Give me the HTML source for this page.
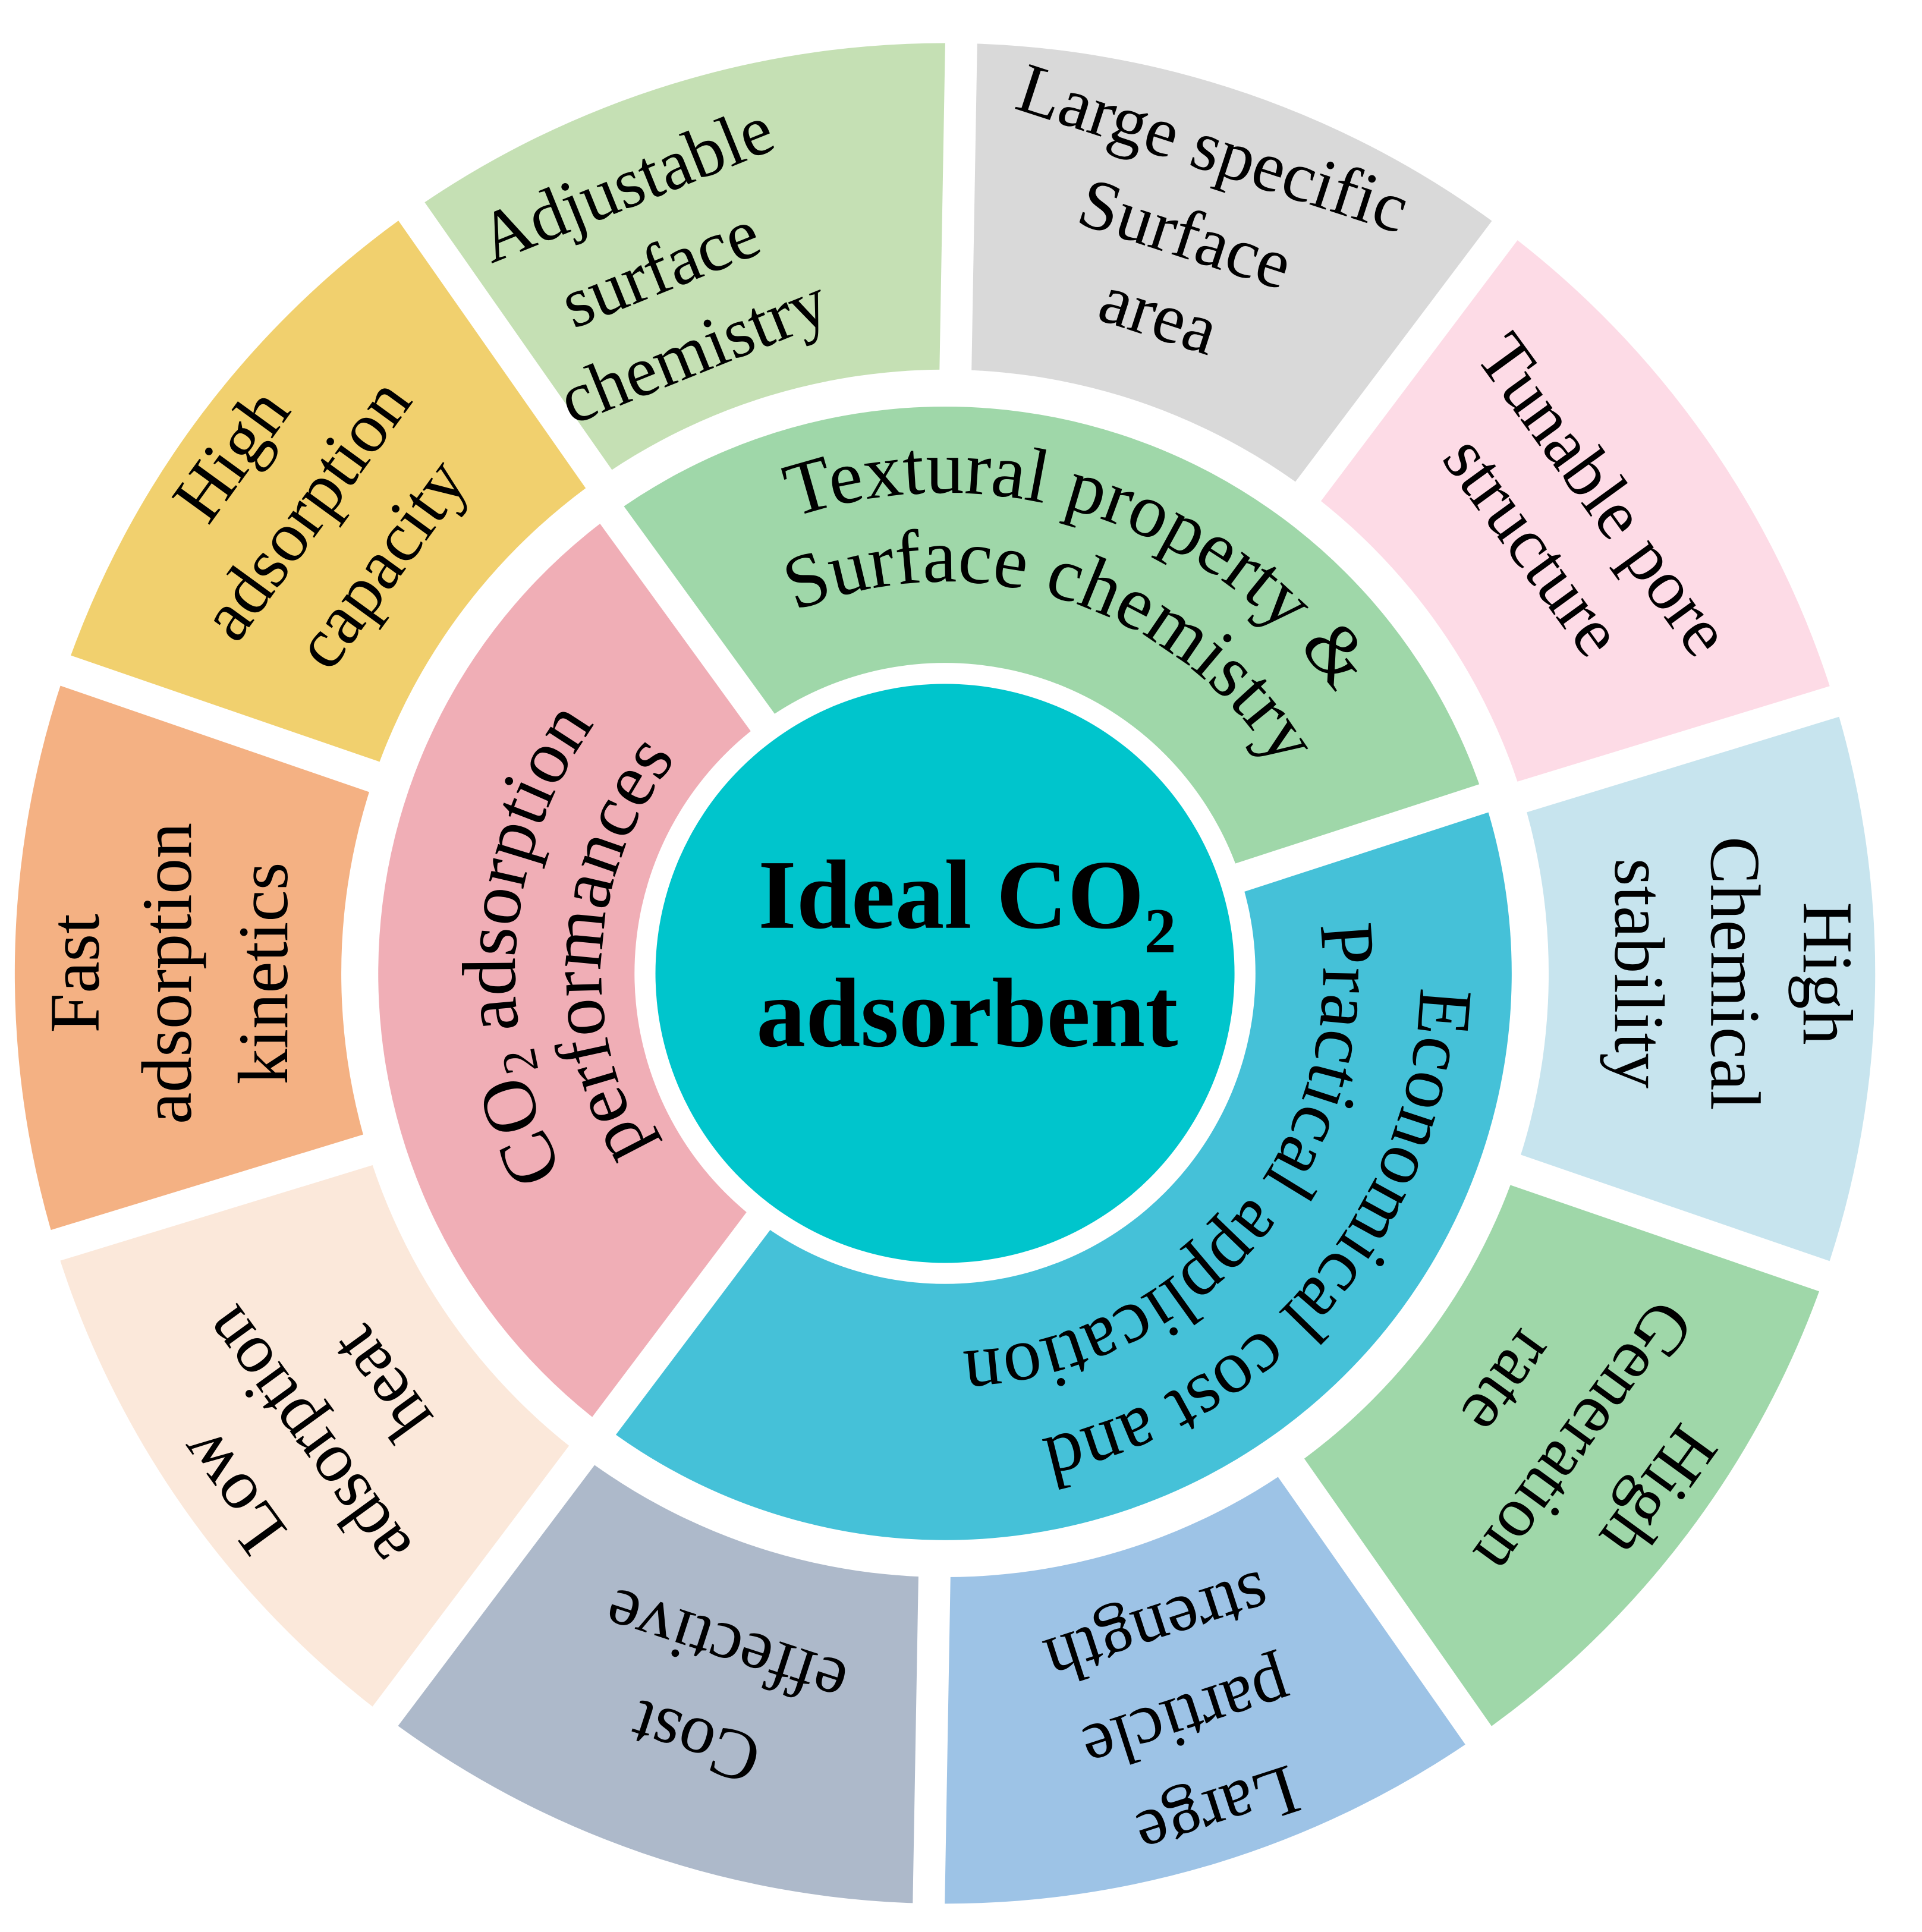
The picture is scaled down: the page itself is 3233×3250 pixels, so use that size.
<!DOCTYPE html>
<html><head><meta charset="utf-8"><style>
html,body{margin:0;padding:0;background:#fff;width:3233px;height:3250px;overflow:hidden;}
svg{display:block;}
text{font-family:"Liberation Serif",serif;fill:#000;}
.o{font-size:58px;text-anchor:middle;}
.m{font-size:62px;}
</style></head><body>
<svg width="3233" height="3250" viewBox="0 0 1560 1568" preserveAspectRatio="none">
<defs>
<path id="w" d="M767,790 L767,35 A755,755 0 0 1 1210.8,179.2 Z"/>
<path id="cw390" d="M767,1180 A390,390 0 0 1 767,400 A390,390 0 0 1 767,1180"/>
<path id="cw318" d="M767,1108 A318,318 0 0 1 767,472 A318,318 0 0 1 767,1108"/>
<path id="cw386" d="M767,1176 A386,386 0 0 1 767,404 A386,386 0 0 1 767,1176"/>
<path id="cw307" d="M767,1097 A307,307 0 0 1 767,483 A307,307 0 0 1 767,1097"/>
<path id="cw349" d="M767,1139 A349,349 0 0 1 767,441 A349,349 0 0 1 767,1139"/>
<path id="cw279" d="M767,1069 A279,279 0 0 1 767,511 A279,279 0 0 1 767,1069"/>
</defs>
<use href="#w" fill="#d9d9d9" transform="rotate(1 767 790)"/>
<use href="#w" fill="#fddbe6" transform="rotate(37 767 790)"/>
<use href="#w" fill="#c7e4ee" transform="rotate(73 767 790)"/>
<use href="#w" fill="#9fd7a9" transform="rotate(109 767 790)"/>
<use href="#w" fill="#9dc3e6" transform="rotate(145 767 790)"/>
<use href="#w" fill="#adb9ca" transform="rotate(181 767 790)"/>
<use href="#w" fill="#fbe8da" transform="rotate(217 767 790)"/>
<use href="#w" fill="#f4b183" transform="rotate(253 767 790)"/>
<use href="#w" fill="#f1d06e" transform="rotate(289 767 790)"/>
<use href="#w" fill="#c5e0b4" transform="rotate(325 767 790)"/>
<circle cx="767" cy="790" r="490" fill="#fff"/>
<path d="M767,790 L767,330 A460,460 0 0 1 1204.5,932.1 Z" fill="#9fd7a9" transform="rotate(-36 767 790)"/>
<path d="M767,790 L767,330 A460,460 0 0 1 1030.8,1166.8 Z" fill="#45c1d8" transform="rotate(72 767 790)"/>
<path d="M767,790 L767,330 A460,460 0 0 1 1206.9,924.5 Z" fill="#f0aeb6" transform="rotate(217 767 790)"/>
<g stroke="#fff" stroke-width="24">
<line x1="767" y1="560" x2="767" y2="320" transform="rotate(-36 767 790)"/>
<line x1="767" y1="560" x2="767" y2="320" transform="rotate(72 767 790)"/>
<line x1="767" y1="560" x2="767" y2="320" transform="rotate(217 767 790)"/>
</g>
<g stroke="#fff" stroke-width="26">
<line x1="767" y1="318" x2="767" y2="0" transform="rotate(1 767 790)"/>
<line x1="767" y1="318" x2="767" y2="0" transform="rotate(37 767 790)"/>
<line x1="767" y1="318" x2="767" y2="0" transform="rotate(73 767 790)"/>
<line x1="767" y1="318" x2="767" y2="0" transform="rotate(109 767 790)"/>
<line x1="767" y1="318" x2="767" y2="0" transform="rotate(145 767 790)"/>
<line x1="767" y1="318" x2="767" y2="0" transform="rotate(181 767 790)"/>
<line x1="767" y1="318" x2="767" y2="0" transform="rotate(217 767 790)"/>
<line x1="767" y1="318" x2="767" y2="0" transform="rotate(253 767 790)"/>
<line x1="767" y1="318" x2="767" y2="0" transform="rotate(289 767 790)"/>
<line x1="767" y1="318" x2="767" y2="0" transform="rotate(325 767 790)"/>
</g>
<circle cx="767" cy="790" r="252" fill="#fff"/>
<circle cx="767" cy="790" r="235" fill="#00c5cc"/>
<text x="785" y="753" font-size="80" font-weight="bold" text-anchor="middle">Ideal CO<tspan font-size="52" dy="20">2</tspan></text>
<text x="785" y="849" font-size="80" font-weight="bold" text-anchor="middle">adsorbent</text>
<g transform="rotate(18 767 790)"><text class="m"><textPath href="#cw390" startOffset="50%" text-anchor="middle">Textural property &amp;</textPath></text>
<text class="m"><textPath href="#cw318" startOffset="50%" text-anchor="middle">Surface chemistry</textPath></text></g>
<g transform="rotate(130 767 790)"><text class="m"><textPath href="#cw386" startOffset="50%" text-anchor="middle">Economical cost and</textPath></text>
<text class="m"><textPath href="#cw307" startOffset="50%" text-anchor="middle">Practical application</textPath></text></g>
<g transform="rotate(274 767 790)"><text class="m"><textPath href="#cw349" startOffset="50%" text-anchor="middle">CO<tspan font-size="40" dy="10">2</tspan><tspan dy="-10"> adsorption</tspan></textPath></text>
<text class="m"><textPath href="#cw279" startOffset="50%" text-anchor="middle">performances</textPath></text></g>
<g transform="rotate(338 767 790)" class="o"><text x="767" y="118">Adjustable</text><text x="767" y="192">surface</text><text x="767" y="264">chemistry</text></g>
<g transform="rotate(18 767 790)" class="o"><text x="767" y="105">Large specific</text><text x="767" y="178">Surface</text><text x="767" y="247">area</text></g>
<g transform="rotate(54 767 790)" class="o"><text x="767" y="148">Tunable pore</text><text x="767" y="219">structure</text></g>
<g transform="rotate(90 767 790)" class="o"><text x="767" y="93">High</text><text x="767" y="168">Chemical</text><text x="767" y="246">stability</text></g>
<g transform="rotate(126 767 790)" class="o"><text x="767" y="93">High</text><text x="767" y="168">Generation</text><text x="767" y="243">rate</text></g>
<g transform="rotate(162 767 790)" class="o"><text x="767" y="93">Large</text><text x="767" y="173">particle</text><text x="767" y="250">strength</text></g>
<g transform="rotate(198 767 790)" class="o"><text x="767" y="153">Cost</text><text x="767" y="233">effective</text></g>
<g transform="rotate(234 767 790)" class="o"><text x="767" y="93">Low</text><text x="767" y="168">adsorption</text><text x="767" y="243">heat</text></g>
<g transform="rotate(270 767 790)" class="o"><text x="767" y="103">Fast</text><text x="767" y="178">adsorption</text><text x="767" y="256">kinetics</text></g>
<g transform="rotate(306 767 790)" class="o"><text x="767" y="93">High</text><text x="767" y="168">adsorption</text><text x="767" y="243">capacity</text></g>
</svg>
</body></html>
